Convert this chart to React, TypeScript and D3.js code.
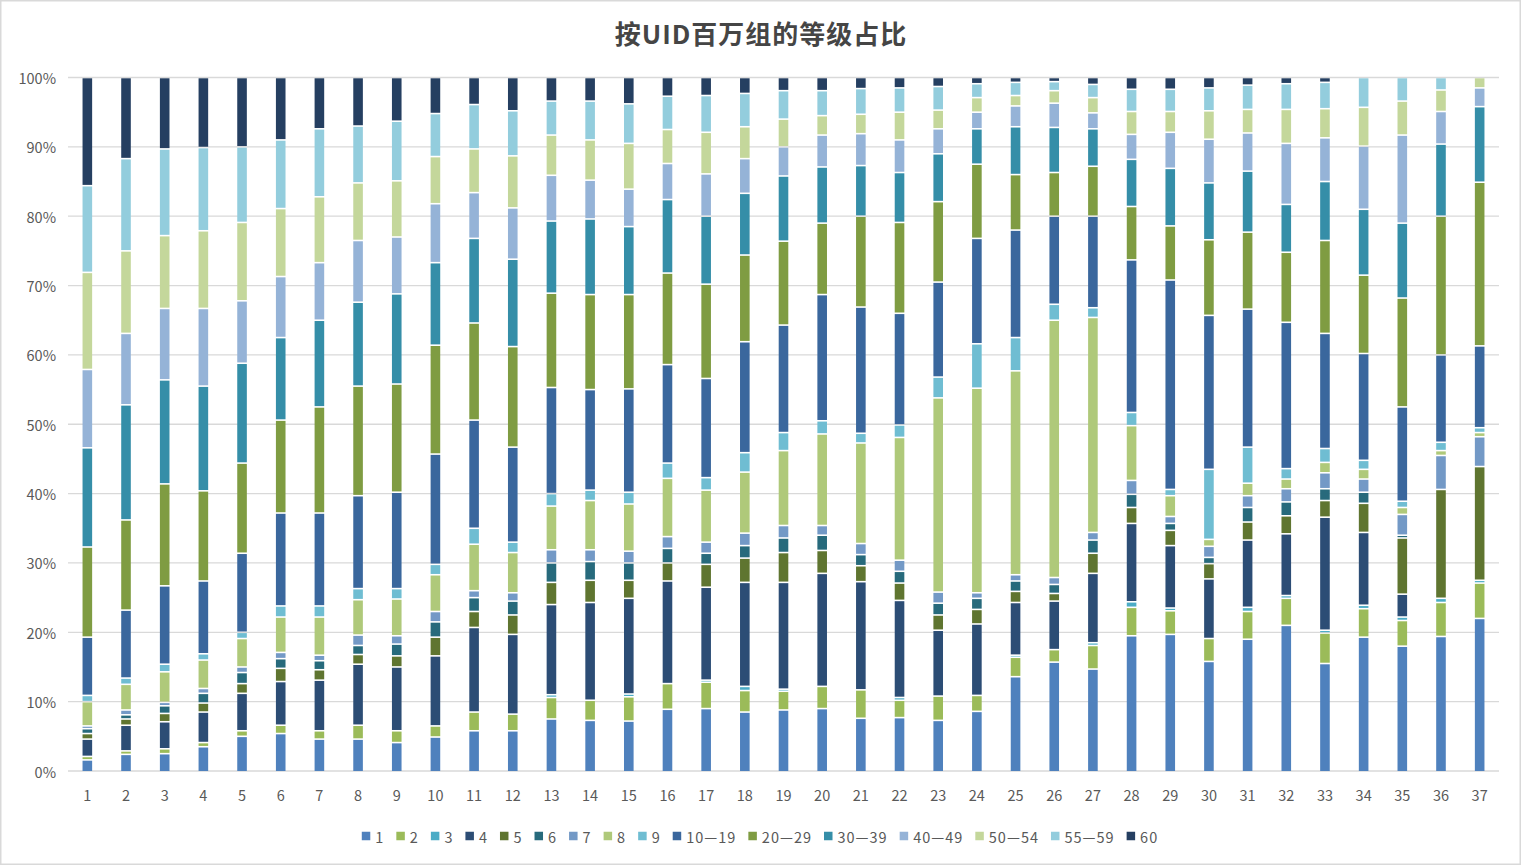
import React from "react";
import * as d3 from "d3";

const categories = Array.from({ length: 37 }, (_, i) => String(i + 1));

const seriesNames = ["1", "2", "3", "4", "5", "6", "7", "8", "9", "10—19", "20—29", "30—39", "40—49", "50—54", "55—59", "60"];

const s1 = [1.6, 2.4, 2.5, 3.5, 5.0, 5.4, 4.6, 4.6, 4.1, 4.9, 5.8, 5.8, 7.5, 7.3, 7.2, 8.9, 9.0, 8.5, 8.8, 9.0, 7.6, 7.7, 7.3, 8.6, 13.6, 15.7, 14.7, 19.5, 19.7, 15.8, 19.0, 21.0, 15.5, 19.3, 18.0, 19.4, 22.0];
const s2 = [0.5, 0.5, 0.7, 0.6, 0.8, 1.2, 1.2, 2.0, 1.7, 1.6, 2.7, 2.4, 3.1, 2.9, 3.5, 3.7, 3.8, 3.1, 2.7, 3.2, 4.1, 2.5, 3.5, 2.3, 2.8, 1.8, 3.4, 4.1, 3.4, 3.3, 4.0, 3.9, 4.4, 4.1, 3.7, 4.9, 5.1];
const s3 = [0, 0, 0, 0, 0, 0, 0, 0, 0, 0, 0, 0, 0.4, 0, 0.4, 0, 0.3, 0.6, 0.3, 0, 0, 0.4, 0, 0, 0.3, 0, 0.4, 0.8, 0.4, 0, 0.6, 0.4, 0.4, 0.5, 0.5, 0.6, 0.4];
const s4 = [2.5, 3.7, 3.9, 4.4, 5.4, 6.3, 7.3, 8.8, 9.2, 10.1, 12.2, 11.5, 13.0, 14.1, 13.8, 14.8, 13.4, 15.0, 15.4, 16.3, 15.6, 14.0, 9.5, 10.3, 7.6, 7.0, 10.0, 11.3, 9.0, 8.6, 9.7, 8.9, 16.3, 10.5, 3.3, 0, 0];
const s5 = [0.8, 0.9, 1.2, 1.3, 1.4, 1.9, 1.5, 1.4, 1.6, 2.7, 2.3, 2.8, 3.2, 3.2, 2.6, 2.6, 3.3, 3.5, 4.3, 3.3, 2.3, 2.5, 2.2, 2.1, 1.6, 1.1, 2.9, 2.3, 2.2, 2.2, 2.6, 2.6, 2.4, 4.2, 8.1, 15.7, 16.4];
const s6 = [0.7, 0.6, 1.1, 1.4, 1.6, 1.4, 1.3, 1.3, 1.7, 2.2, 2.0, 2.0, 2.8, 2.7, 2.5, 2.1, 1.6, 1.8, 2.1, 2.2, 1.6, 1.7, 1.7, 1.6, 1.5, 1.3, 1.9, 1.9, 1.0, 0.9, 2.1, 2.0, 1.7, 1.6, 0.4, 0, 0];
const s7 = [0.4, 0.7, 0.5, 0.7, 0.8, 0.9, 0.8, 1.5, 1.2, 1.5, 1.0, 1.2, 1.9, 1.7, 1.7, 1.7, 1.6, 1.8, 1.8, 1.4, 1.6, 1.6, 1.6, 0.8, 0.9, 1.0, 1.1, 2.0, 1.0, 1.6, 1.7, 1.9, 2.3, 1.9, 3.0, 4.9, 4.3];
const s8 = [3.5, 3.7, 4.4, 4.1, 4.1, 5.1, 5.5, 5.1, 5.3, 5.3, 6.7, 5.8, 6.3, 7.1, 6.8, 8.4, 7.5, 8.8, 10.8, 13.2, 14.5, 17.7, 28.0, 29.5, 29.4, 37.1, 31.0, 7.9, 3.0, 1.0, 1.8, 1.4, 1.5, 1.4, 1.0, 0.7, 0.6];
const s9 = [0.9, 0.9, 1.1, 0.9, 0.9, 1.6, 1.6, 1.6, 1.5, 1.5, 2.3, 1.5, 1.8, 1.5, 1.7, 2.2, 1.8, 2.8, 2.6, 1.9, 1.4, 1.8, 3.0, 6.4, 4.8, 2.3, 1.4, 1.9, 0.9, 10.1, 5.2, 1.5, 2.0, 1.3, 0.9, 1.2, 0.7];
const s10_19 = [8.4, 9.8, 11.3, 10.5, 11.4, 13.4, 13.4, 13.4, 13.9, 15.9, 15.6, 13.7, 15.3, 14.5, 14.9, 14.2, 14.3, 16.0, 15.5, 18.2, 18.2, 16.1, 13.7, 15.2, 15.5, 12.7, 13.2, 22.0, 30.2, 22.2, 19.9, 21.1, 16.6, 15.4, 13.6, 12.6, 11.8];
const s20_29 = [13.0, 13.0, 14.7, 13.0, 13.0, 13.4, 15.3, 15.8, 15.6, 15.7, 14.0, 14.5, 13.6, 13.7, 13.6, 13.2, 13.6, 12.5, 12.1, 10.3, 13.1, 13.1, 11.6, 10.7, 8.0, 6.3, 7.2, 7.7, 7.8, 10.9, 11.1, 10.1, 13.4, 11.3, 15.7, 20.0, 23.6];
const s30_39 = [14.3, 16.6, 15.0, 15.1, 14.4, 11.9, 12.5, 12.1, 13.0, 11.9, 12.2, 12.6, 10.4, 10.9, 9.8, 10.6, 9.8, 8.9, 9.4, 8.1, 7.3, 7.2, 6.9, 5.1, 6.9, 6.5, 5.4, 6.8, 8.3, 8.2, 8.8, 6.9, 8.5, 9.5, 10.8, 10.4, 10.9];
const s40_49 = [11.3, 10.3, 10.3, 11.2, 9.0, 8.8, 8.3, 8.9, 8.2, 8.5, 6.6, 7.4, 6.6, 5.6, 5.4, 5.2, 6.1, 5.0, 4.2, 4.6, 4.6, 4.7, 3.6, 2.4, 3.0, 3.5, 2.3, 3.6, 5.2, 6.3, 5.5, 8.8, 6.3, 9.1, 12.7, 4.7, 2.7];
const s50_54 = [14.0, 11.9, 10.5, 11.2, 11.3, 9.8, 9.5, 8.3, 8.1, 6.8, 6.3, 7.5, 5.8, 5.8, 6.6, 4.9, 6.0, 4.6, 4.0, 2.8, 2.8, 4.0, 2.7, 2.1, 1.5, 1.8, 2.2, 3.3, 3.0, 4.1, 3.4, 4.9, 4.2, 5.6, 4.9, 3.1, 1.5];
const s55_59 = [12.5, 13.3, 12.5, 12.0, 10.9, 9.9, 9.8, 8.2, 8.6, 6.2, 6.4, 6.5, 4.9, 5.6, 5.7, 4.8, 5.3, 4.8, 4.1, 3.6, 3.7, 3.5, 3.4, 2.0, 1.9, 1.3, 1.9, 3.2, 3.2, 3.3, 3.5, 3.7, 3.8, 4.3, 3.4, 1.8, 0];
const s60 = [15.6, 11.7, 10.3, 10.1, 10.0, 9.0, 7.4, 7.0, 6.3, 5.2, 3.9, 4.8, 3.4, 3.4, 3.8, 2.7, 2.6, 2.3, 1.9, 1.9, 1.6, 1.5, 1.3, 0.9, 0.7, 0.6, 1.0, 1.7, 1.7, 1.5, 1.1, 0.9, 0.7, 0, 0, 0, 0];

const seriesValues = [s1, s2, s3, s4, s5, s6, s7, s8, s9, s10_19, s20_29, s30_39, s40_49, s50_54, s55_59, s60];

const colors = ["#4f81bd", "#9bbb59", "#4bacc6", "#2c4d75", "#5f7530", "#276a7c", "#7399c6", "#afc97a", "#6fbdd2", "#3a679d", "#7f9c42", "#358ea8", "#95b3d7", "#c4d79b", "#93cddd", "#253f61"];

const yTicks = [0, 10, 20, 30, 40, 50, 60, 70, 80, 90, 100];

const W = 1522;
const H = 866;
const FONT = "'Noto Sans CJK SC', 'Noto Sans', sans-serif";

function measure(text: string, size: number, spacing: number): number {
  const c = document.createElement("canvas").getContext("2d");
  if (!c) return text.length * size * 0.55;
  c.font = `${size}px ${FONT}`;
  return c.measureText(text).width + spacing * text.length;
}

export default function App() {
  const rows = categories.map((c, i) => {
    const r: any = { cat: c };
    seriesNames.forEach((s, k) => (r[s] = seriesValues[k][i]));
    return r;
  });
  const stacked = d3.stack<any>().keys(seriesNames).offset(d3.stackOffsetExpand)(rows);

  const x = d3.scaleBand<string>().domain(categories).range([68, 1499]);
  const y = d3.scaleLinear().domain([0, 1]).range([771, 77.5]);
  const barW = 9.6;
  const gap = 1.6;

  // legend layout
  const legFont = 14.5;
  const legSpacing = 1;
  const marker = 8.5;
  const mGap = 5;
  const itemGap = 12;
  const widths = seriesNames.map((s) => marker + mGap + measure(s, legFont, legSpacing));
  const total = d3.sum(widths) + itemGap * (seriesNames.length - 1);
  let lx = 760 - total / 2;
  const legendPos = widths.map((w) => {
    const p = lx;
    lx += w + itemGap;
    return p;
  });
  const legY = 836;

  return (
    <div style={{ position: "fixed", left: 0, top: 0 }}>
      <svg width={W} height={H} style={{ display: "block", background: "#fff" }}>
        <rect x={0.75} y={0.75} width={1519.5} height={863.5} fill="#fff" stroke="#d9d9d9" strokeWidth={1.5} />
        <text x={761} y={32} textAnchor="middle" dominantBaseline="central" fontFamily={FONT} fontSize={26} fontWeight={700} fill="#454545" letterSpacing={1}>
          按UID百万组的等级占比
        </text>
        {yTicks.map((t) => (
          <g key={t}>
            <line x1={68} x2={1499} y1={y(t / 100)} y2={y(t / 100)} stroke="#d9d9d9" strokeWidth={t === 0 ? 1.6 : 1.3} />
            <text x={56} y={y(t / 100)} textAnchor="end" dominantBaseline="central" fontFamily={FONT} fontSize={14.5} fill="#595959">
              {t}%
            </text>
          </g>
        ))}
        {stacked.map((layer, k) => (
          <g key={layer.key} fill={colors[k]}>
            {layer.map((d, i) => {
              const y0 = y(d[0]);
              const y1 = y(d[1]);
              const top = y1 + gap / 2;
              const bottom = d[0] <= 0.0001 ? y0 : y0 - gap / 2;
              const h = bottom - top;
              if (h <= 0.2) return null;
              return <rect key={i} x={(x(categories[i]) as number) + x.bandwidth() / 2 - barW / 2} y={top} width={barW} height={h} />;
            })}
          </g>
        ))}
        {categories.map((c) => (
          <text key={c} x={(x(c) as number) + x.bandwidth() / 2} y={794} textAnchor="middle" dominantBaseline="central" fontFamily={FONT} fontSize={14.5} fill="#595959">
            {c}
          </text>
        ))}
        {seriesNames.map((s, k) => (
          <g key={s} transform={`translate(${legendPos[k]},${legY})`}>
            <rect x={0} y={-marker / 2} width={marker} height={marker} fill={colors[k]} />
            <text x={marker + mGap} y={0} dominantBaseline="central" fontFamily={FONT} fontSize={legFont} letterSpacing={legSpacing} fill="#595959">
              {s}
            </text>
          </g>
        ))}
      </svg>
    </div>
  );
}
